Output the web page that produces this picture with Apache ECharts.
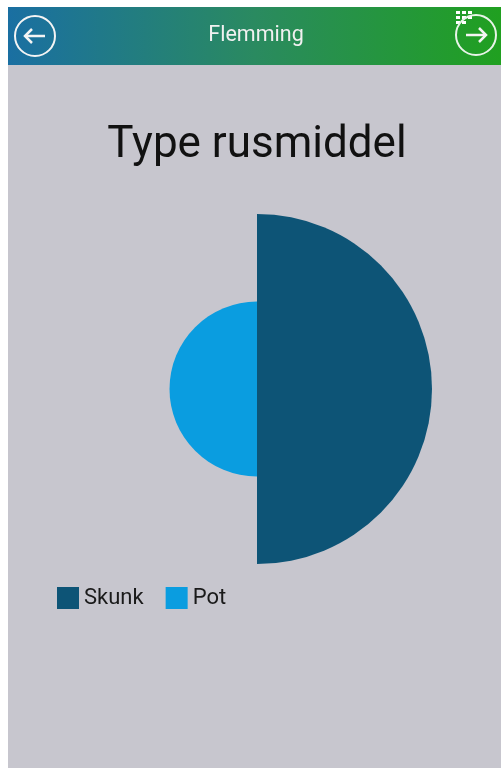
<!DOCTYPE html>
<html>
<head>
<meta charset="utf-8">
<script src="https://cdn.jsdelivr.net/npm/echarts@6/dist/echarts.min.js"></script>
<style>
html,body{margin:0;padding:0;background:#ffffff;}
#chart{width:501px;height:768px;}
</style>
</head>
<body>
<div id="chart"></div>
<script>
const headerTitle = 'Flemming';
const chartTitle = 'Type rusmiddel';
const categories = ['Skunk', 'Pot'];
const values = [2, 1];
const colors = ['#0d5476', '#0a9de0'];

const chart = echarts.init(document.getElementById('chart'), null, {renderer: 'canvas'});
const FONT = 'Roboto, "Noto Sans", sans-serif';

const option = {
  animation: false,
  backgroundColor: '#ffffff',
  title: {
    text: chartTitle,
    left: 252,
    textAlign: 'center',
    top: 119,
    textStyle: {fontFamily: FONT, fontSize: 44, fontWeight: 'normal', color: '#111111'}
  },
  legend: {
    left: 52,
    top: 582,
    itemWidth: 22,
    itemHeight: 22,
    itemGap: 22,
    icon: 'rect',
    data: categories,
    textStyle: {fontFamily: FONT, fontSize: 22, color: '#1a1a1a'}
  },
  graphic: [
    {type: 'rect', z: -10, shape: {x: 8, y: 7, width: 493, height: 761}, style: {fill: '#c7c6ce'}},
    {type: 'rect', z: -5, shape: {x: 8, y: 7, width: 493, height: 58},
      style: {fill: new echarts.graphic.LinearGradient(0, 0, 1, 0, [
        {offset: 0, color: '#1a6fa2'}, {offset: 0.5, color: '#2a8a60'}, {offset: 1, color: '#20a020'}])}},
    {type: 'text', z: 5, style: {text: headerTitle, x: 256, y: 36, textAlign: 'center', textVerticalAlign: 'middle',
      font: '21.5px ' + FONT, fill: '#f0f0f0'}},
    {type: 'circle', z: 5, shape: {cx: 35, cy: 36, r: 20}, style: {fill: 'none', stroke: '#f4f4f4', lineWidth: 2}},
    {type: 'polyline', z: 5, shape: {points: [[25, 36], [45, 36]]}, style: {stroke: '#f4f4f4', lineWidth: 2.5}},
    {type: 'polyline', z: 5, shape: {points: [[32, 29], [25, 36], [32, 43]]}, style: {fill: 'none', stroke: '#f4f4f4', lineWidth: 2.5}},
    {type: 'circle', z: 5, shape: {cx: 476, cy: 35, r: 20}, style: {fill: 'none', stroke: '#e8f4e8', lineWidth: 2}},
    {type: 'polyline', z: 5, shape: {points: [[466, 35], [486, 35]]}, style: {stroke: '#f4f4f4', lineWidth: 2.5}},
    {type: 'polyline', z: 5, shape: {points: [[479, 28], [486, 35], [479, 42]]}, style: {fill: 'none', stroke: '#f4f4f4', lineWidth: 2.5}},
    {type: 'group', z: 6, children: [
      {type: 'rect', shape: {x: 456, y: 11, width: 4, height: 3}, style: {fill: '#ffffff'}},
      {type: 'rect', shape: {x: 462, y: 11, width: 4, height: 3}, style: {fill: '#ffffff'}},
      {type: 'rect', shape: {x: 468, y: 11, width: 4, height: 3}, style: {fill: '#ffffff'}},
      {type: 'rect', shape: {x: 456, y: 16, width: 4, height: 3}, style: {fill: '#ffffff'}},
      {type: 'rect', shape: {x: 462, y: 16, width: 4, height: 3}, style: {fill: '#ffffff'}},
      {type: 'rect', shape: {x: 468, y: 16, width: 4, height: 3}, style: {fill: '#ffffff'}},
      {type: 'rect', shape: {x: 456, y: 21, width: 4, height: 3}, style: {fill: '#ffffff'}},
      {type: 'rect', shape: {x: 462, y: 21, width: 4, height: 3}, style: {fill: '#ffffff'}}
    ]}
  ],
  series: [{
    type: 'pie',
    roseType: 'area',
    center: [257, 389],
    radius: [0, 175],
    startAngle: 90,
    clockwise: true,
    label: {show: false},
    labelLine: {show: false},
    silent: true,
    data: categories.map((c, i) => ({name: c, value: values[i], itemStyle: {color: colors[i]}}))
  }]
};
chart.setOption(option);
</script>
</body>
</html>
